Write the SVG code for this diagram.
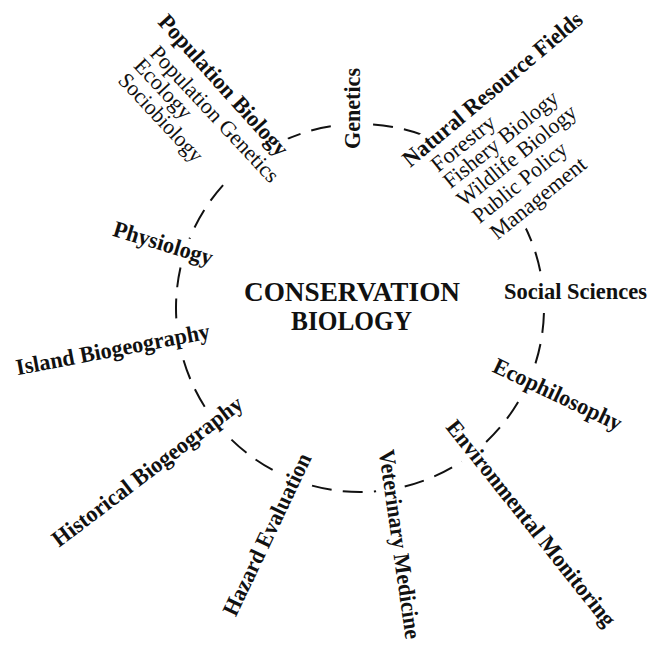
<svg xmlns="http://www.w3.org/2000/svg" width="651" height="646" viewBox="0 0 651 646">
  <style>
    .lbl { font-family: "Liberation Serif", "Times New Roman", serif; font-size: 22px; fill: #111; text-anchor: middle; }
    .head { font-size: 23px; font-weight: bold; }
    .title { font-family: "Liberation Serif", "Times New Roman", serif; font-size: 27px; font-weight: bold; fill: #111; text-anchor: middle; }
    .ring { fill: none; stroke: #111; stroke-width: 2; stroke-dasharray: 20 11.245; stroke-dashoffset: -5; }
  </style>
  <defs>
    <!-- knock-outs so the dashed ring stops where the field names sit on it -->
    <mask id="label-gaps" maskUnits="userSpaceOnUse" x="0" y="0" width="651" height="646">
      <rect width="651" height="646" fill="#fff"/>
      <g fill="#000">
        <rect transform="translate(352,108.5) rotate(-90)" x="-47" y="-12" width="94" height="28"/>
        <rect transform="translate(223.6,85.2) rotate(48)" x="-97" y="-12" width="194" height="28"/>
        <rect transform="translate(214.7,114) rotate(47)" x="-95" y="-12" width="190" height="48"/>
        <rect transform="translate(492.4,89.1) rotate(-40)" x="-120" y="-12" width="240" height="28"/>
        <rect transform="translate(463,143.3) rotate(-39)" x="-44" y="-12" width="88" height="28"/>
        <rect transform="translate(500.6,139.3) rotate(-39)" x="-77" y="-12" width="154" height="28"/>
        <rect transform="translate(516.6,155.3) rotate(-39)" x="-80" y="-12" width="160" height="28"/>
        <rect transform="translate(519.6,182.3) rotate(-39)" x="-64" y="-12" width="128" height="28"/>
        <rect transform="translate(538,198) rotate(-39)" x="-65" y="-12" width="130" height="28"/>
        <rect transform="translate(163.2,243.2) rotate(17)" x="-58" y="-12" width="116" height="28"/>
        <rect transform="translate(112.8,349.3) rotate(-10.8)" x="-105" y="-12" width="210" height="28"/>
        <rect transform="translate(575.5,291.5)" x="-78" y="-12" width="156" height="28"/>
        <rect transform="translate(557.7,394.4) rotate(25.4)" x="-76" y="-12" width="152" height="28"/>
        <rect transform="translate(147.3,471.3) rotate(-37.2)" x="-123" y="-12" width="246" height="28"/>
        <rect transform="translate(267,534.4) rotate(-64.5)" x="-95" y="-12" width="190" height="28"/>
        <rect transform="translate(399.8,544.3) rotate(81.9)" x="-102" y="-12" width="204" height="28"/>
        <rect transform="translate(531.2,523.1) rotate(51.4)" x="-135" y="-12" width="270" height="28"/>
      </g>
    </mask>
  </defs>

  <rect width="651" height="646" fill="#fff"/>

  <!-- dashed ring linking the contributing fields -->
  <g id="connectors">
    <circle class="ring" cx="360" cy="308" r="184" mask="url(#label-gaps)"/>
  </g>

  <g id="conservation-biology">
    <text class="title" x="352" y="300.5" textLength="216" lengthAdjust="spacingAndGlyphs">CONSERVATION</text>
    <text class="title" x="351.5" y="329.5" textLength="121" lengthAdjust="spacingAndGlyphs">BIOLOGY</text>
  </g>

  <g id="genetics" transform="translate(352,108.5) rotate(-90)">
    <text class="lbl head" x="0" y="7.6" textLength="81" lengthAdjust="spacingAndGlyphs">Genetics</text>
  </g>

  <g id="population-biology">
    <text class="lbl head" transform="translate(223.6,85.2) rotate(48)" x="0" y="7.6" textLength="182" lengthAdjust="spacingAndGlyphs">Population Biology</text>
    <text class="lbl" transform="translate(214.7,114) rotate(47)" x="0" y="7.3" textLength="178" lengthAdjust="spacingAndGlyphs">Population Genetics</text>
    <text class="lbl" transform="translate(163.4,88.5) rotate(47)" x="0" y="7.3" textLength="74" lengthAdjust="spacingAndGlyphs">Ecology</text>
    <text class="lbl" transform="translate(161,117.5) rotate(47)" x="0" y="7.3" textLength="113" lengthAdjust="spacingAndGlyphs">Sociobiology</text>
  </g>

  <g id="natural-resource-fields">
    <text class="lbl head" transform="translate(492.4,89.1) rotate(-40)" x="0" y="7.6" textLength="227" lengthAdjust="spacingAndGlyphs">Natural Resource Fields</text>
    <text class="lbl" transform="translate(463,143.3) rotate(-39)" x="0" y="7.3" textLength="76" lengthAdjust="spacingAndGlyphs">Forestry</text>
    <text class="lbl" transform="translate(500.6,139.3) rotate(-39)" x="0" y="7.3" textLength="141" lengthAdjust="spacingAndGlyphs">Fishery Biology</text>
    <text class="lbl" transform="translate(516.6,155.3) rotate(-39)" x="0" y="7.3" textLength="147" lengthAdjust="spacingAndGlyphs">Wildlife Biology</text>
    <text class="lbl" transform="translate(519.6,182.3) rotate(-39)" x="0" y="7.3" textLength="115" lengthAdjust="spacingAndGlyphs">Public Policy</text>
    <text class="lbl" transform="translate(538,198) rotate(-39)" x="0" y="7.3" textLength="117" lengthAdjust="spacingAndGlyphs">Management</text>
  </g>

  <g id="physiology" transform="translate(163.2,243.2) rotate(17)">
    <text class="lbl head" x="0" y="7.6" textLength="103" lengthAdjust="spacingAndGlyphs">Physiology</text>
  </g>

  <g id="island-biogeography" transform="translate(112.8,349.3) rotate(-10.8)">
    <text class="lbl head" x="0" y="7.6" textLength="197" lengthAdjust="spacingAndGlyphs">Island Biogeography</text>
  </g>

  <g id="social-sciences" transform="translate(575.5,291.5)">
    <text class="lbl head" x="0" y="7.6" textLength="143" lengthAdjust="spacingAndGlyphs">Social Sciences</text>
  </g>

  <g id="ecophilosophy" transform="translate(557.7,394.4) rotate(25.4)">
    <text class="lbl head" x="0" y="7.6" textLength="140" lengthAdjust="spacingAndGlyphs">Ecophilosophy</text>
  </g>

  <g id="historical-biogeography" transform="translate(147.3,471.3) rotate(-37.2)">
    <text class="lbl head" x="0" y="7.6" textLength="233" lengthAdjust="spacingAndGlyphs">Historical Biogeography</text>
  </g>

  <g id="hazard-evaluation" transform="translate(267,534.4) rotate(-64.5)">
    <text class="lbl head" x="0" y="7.6" textLength="177" lengthAdjust="spacingAndGlyphs">Hazard Evaluation</text>
  </g>

  <g id="veterinary-medicine" transform="translate(399.8,544.3) rotate(81.9)">
    <text class="lbl head" x="0" y="7.6" textLength="191" lengthAdjust="spacingAndGlyphs">Veterinary Medicine</text>
  </g>

  <g id="environmental-monitoring" transform="translate(531.2,523.1) rotate(51.4)">
    <text class="lbl head" x="0" y="7.6" textLength="257" lengthAdjust="spacingAndGlyphs">Environmental Monitoring</text>
  </g>
</svg>
